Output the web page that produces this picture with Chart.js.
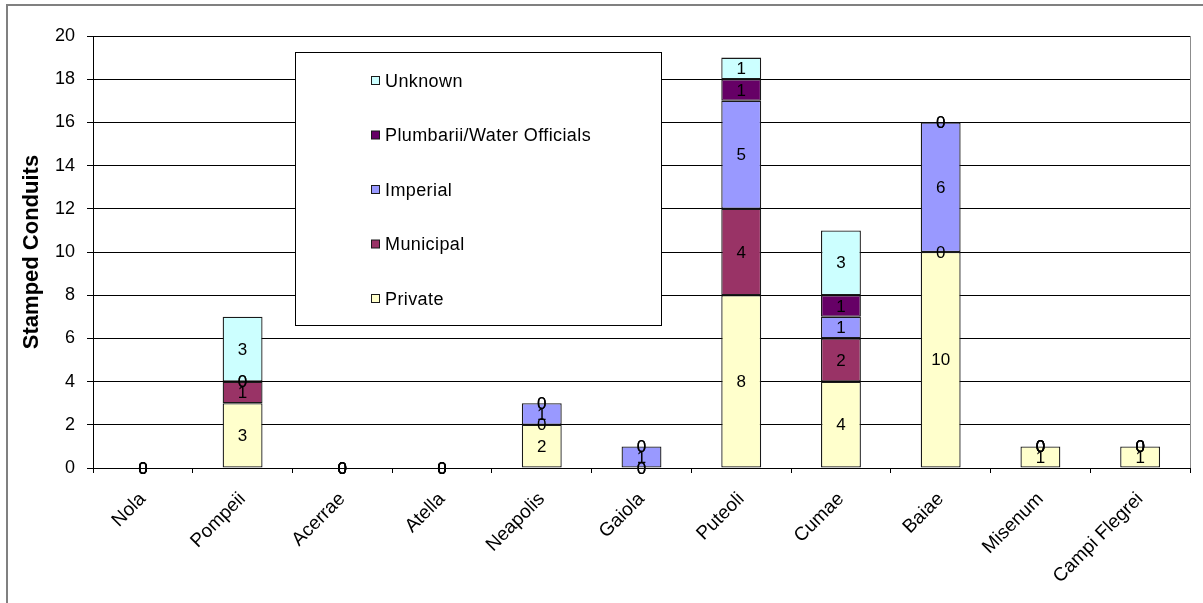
<!DOCTYPE html>
<html>
<head>
<meta charset="utf-8">
<script src="https://cdn.jsdelivr.net/npm/chart.js@4/dist/chart.umd.min.js"></script>
<style>
  html, body { margin: 0; padding: 0; background: #fff; }
  #wrap { width: 1203px; height: 603px; }
</style>
</head>
<body>
<div id="wrap"><canvas id="c" width="1203" height="603"></canvas></div>
<script>
// Sites along the Bay of Naples
const categories = ['Nola', 'Pompeii', 'Acerrae', 'Atella', 'Neapolis', 'Gaiola',
                    'Puteoli', 'Cumae', 'Baiae', 'Misenum', 'Campi Flegrei'];

// Stamped conduits per owner type
const privateVals   = [0, 3, 0, 0, 2, 0, 8, 4, 10, 1, 1];
const municipalVals = [0, 1, 0, 0, 0, 0, 4, 2, 0, 0, 0];
const imperialVals  = [0, 0, 0, 0, 1, 1, 5, 1, 6, 0, 0];
const plumbariiVals = [0, 0, 0, 0, 0, 0, 1, 1, 0, 0, 0];
const unknownVals   = [0, 3, 0, 0, 0, 0, 1, 3, 0, 0, 0];

const seriesNames = ['Private', 'Municipal', 'Imperial', 'Plumbarii/Water Officials', 'Unknown'];
const yTickValues = [0, 2, 4, 6, 8, 10, 12, 14, 16, 18, 20];

const FONT = '"Liberation Sans", Arial, Helvetica, sans-serif';
const colors = ['#FFFFCC', '#993366', '#9999FF', '#660066', '#CCFFFF'];
const seriesValues = [privateVals, municipalVals, imperialVals, plumbariiVals, unknownVals];

const datasets = seriesNames.map((name, i) => ({
  label: name,
  data: seriesValues[i],
  backgroundColor: colors[i],
  borderColor: '#1a1a1a',
  borderWidth: 1.3,
  borderSkipped: false,
  categoryPercentage: 1.0,
  barPercentage: 0.4
}));

// White page plus the grey frame around the whole chart
const framePlugin = {
  id: 'frame',
  beforeInit(chart) {
    // slightly open letter spacing for all canvas text
    chart.ctx.letterSpacing = '0.4px';
  },
  beforeDraw(chart) {
    const ctx = chart.ctx;
    ctx.save();
    ctx.fillStyle = '#fff';
    ctx.fillRect(0, 0, chart.width, chart.height);
    ctx.strokeStyle = '#808080';
    ctx.lineWidth = 2;
    ctx.strokeRect(7, 5, chart.width + 20, chart.height + 20);
    ctx.restore();
  },
  beforeDatasetsDraw(chart) {
    const { ctx, chartArea: a } = chart;
    ctx.save();
    ctx.strokeStyle = '#8c8c8c';
    ctx.lineWidth = 1;
    ctx.beginPath();
    ctx.moveTo(a.right + 0.5, a.top);
    ctx.lineTo(a.right + 0.5, a.bottom);
    ctx.stroke();
    ctx.restore();
  }
};

// Value written in the middle of every stacked segment
const valueLabels = {
  id: 'valueLabels',
  afterDatasetsDraw(chart) {
    const ctx = chart.ctx;
    ctx.save();
    ctx.font = '17px ' + FONT;
    ctx.fillStyle = '#000';
    ctx.textAlign = 'center';
    ctx.textBaseline = 'middle';
    chart.data.datasets.forEach((ds, di) => {
      const meta = chart.getDatasetMeta(di);
      meta.data.forEach((el, i) => {
        const p = el.getProps(['x', 'y', 'base'], true);
        ctx.fillText(String(ds.data[i]), p.x, (p.y + p.base) / 2 + 1);
      });
    });
    ctx.restore();
  }
};

// Boxed legend inside the plot, series listed top-down in reverse order
const boxLegend = {
  id: 'boxLegend',
  afterDraw(chart) {
    const ctx = chart.ctx;
    const box = { x: 295.5, y: 52.5, w: 366, h: 273 };
    ctx.save();
    ctx.fillStyle = '#fff';
    ctx.fillRect(box.x, box.y, box.w, box.h);
    ctx.strokeStyle = '#000';
    ctx.lineWidth = 1;
    ctx.strokeRect(box.x, box.y, box.w, box.h);
    ctx.font = '18px ' + FONT;
    ctx.letterSpacing = '0.4px';
    ctx.textAlign = 'left';
    ctx.textBaseline = 'middle';
    const order = chart.data.datasets.map((d, i) => i).reverse();
    order.forEach((di, row) => {
      const ds = chart.data.datasets[di];
      const cy = 81 + row * 54.5;
      ctx.fillStyle = ds.backgroundColor;
      ctx.fillRect(371.5, cy - 4.5, 8, 8);
      ctx.strokeStyle = '#1a1a1a';
      ctx.strokeRect(371.5, cy - 4.5, 8, 8);
      ctx.fillStyle = '#000';
      ctx.fillText(ds.label, 385, cy + 1);
    });
    ctx.restore();
  }
};

new Chart(document.getElementById('c'), {
  type: 'bar',
  data: { labels: categories, datasets },
  plugins: [framePlugin, valueLabels, boxLegend],
  options: {
    responsive: false,
    animation: false,
    events: [],
    layout: { padding: { top: 36, right: 13, left: 0, bottom: 0 } },
    plugins: { legend: { display: false }, tooltip: { enabled: false } },
    scales: {
      x: {
        stacked: true,
        offset: true,
        grid: { drawOnChartArea: false, drawTicks: true, tickLength: 5, color: '#000', offset: true },
        border: { color: '#000', width: 1 },
        ticks: {
          color: '#000', font: { family: FONT, size: 19 },
          minRotation: 45, maxRotation: 45, autoSkip: false, padding: 15
        },
        afterFit(scale) { scale.height = 135; }
      },
      y: {
        stacked: true,
        min: 0, max: 20,
        afterBuildTicks(scale) { scale.ticks = yTickValues.map(v => ({ value: v })); },
        grid: { color: '#000', lineWidth: 1, tickLength: 6, drawTicks: true },
        border: { color: '#000', width: 1 },
        ticks: { color: '#000', font: { family: FONT, size: 18 }, padding: 12 },
        title: {
          display: true, text: 'Stamped Conduits', color: '#000',
          font: { family: FONT, size: 22, weight: 'bold' },
          padding: { top: 19, bottom: 0 }
        },
        afterFit(scale) { scale.width = 93; }
      }
    }
  }
});
</script>
</body>
</html>
